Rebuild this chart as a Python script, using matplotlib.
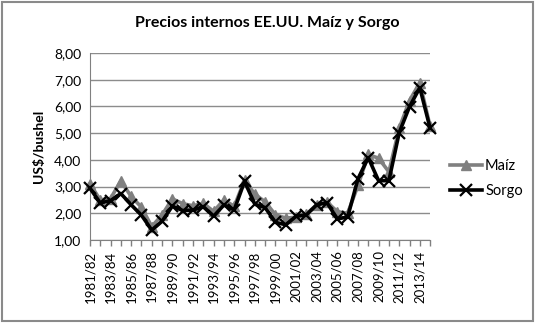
import matplotlib.pyplot as plt
from matplotlib.patches import Rectangle

plt.rcParams['font.family'] = ['Lato', 'DejaVu Sans']

# campañas 1981/82 .. 2014/15
campanas = [f"{y}/{str(y + 1)[-2:]}" for y in range(1981, 2015)]

maiz = [3.11, 2.50, 2.55, 3.21, 2.63, 2.23, 1.50, 1.94, 2.54, 2.36,
        2.28, 2.37, 2.07, 2.50, 2.26, 3.24, 2.71, 2.43, 1.94, 1.82,
        1.85, 1.97, 2.32, 2.42, 2.06, 2.00, 3.04, 4.20, 4.06, 3.55,
        5.18, 6.22, 6.89, 5.25]
sorgo = [2.94, 2.39, 2.47, 2.74, 2.32, 1.93, 1.37, 1.70, 2.27, 2.10,
         2.12, 2.25, 1.89, 2.31, 2.13, 3.19, 2.34, 2.21, 1.66, 1.57,
         1.89, 1.94, 2.32, 2.39, 1.79, 1.86, 3.29, 4.08, 3.22, 3.22,
         5.02, 5.99, 6.70, 5.18]

fig = plt.figure(figsize=(5.35, 3.23), dpi=100)
ax = fig.add_axes([0.168, 0.257, 0.636, 0.579])

x = list(range(len(campanas)))
ax.plot(x, maiz, color='#808080', lw=2.6, marker='^', ms=7, label='Maíz',
        zorder=3, clip_on=False)
ax.plot(x, sorgo, color='black', lw=2.6, marker='x', ms=8, mew=1.6, label='Sorgo',
        zorder=4, clip_on=False)

ax.set_xlim(0, len(campanas) - 1)
ax.set_ylim(1, 8)
ax.set_yticks(range(1, 9))
ax.set_yticklabels([f"{v},00" for v in range(1, 9)], fontsize=10)
ax.set_xticks(x, minor=True)
ax.set_xticks(x[::2])
ax.set_xticklabels(campanas[::2], rotation=90, fontsize=9.5)
ax.tick_params(axis='x', which='both', length=4, color='#808080', width=1, direction='out')
ax.tick_params(axis='y', length=0, pad=6)

ax.grid(axis='y', color='#8c8c8c', lw=1)
ax.set_axisbelow(True)
for side in ['top', 'right']:
    ax.spines[side].set_visible(False)
for side in ['left', 'bottom']:
    ax.spines[side].set_color('#808080')

ax.set_ylabel('US$/bushel', fontsize=10, fontweight='bold', labelpad=7)
fig.text(0.5, 0.93, 'Precios internos EE.UU. Maíz y Sorgo', ha='center', va='center',
         fontsize=11.5, fontweight='bold')

ax.legend(loc='center left', bbox_to_anchor=(1.02, 0.33), frameon=False,
          fontsize=10.5, handlelength=2.2, handletextpad=0.2, labelspacing=0.75)

fig.patches.append(Rectangle((0.004, 0.006), 0.992, 0.988, transform=fig.transFigure,
                             fill=False, edgecolor='#8a8a8a', lw=1.5))

fig.savefig('out.png', dpi=100)
